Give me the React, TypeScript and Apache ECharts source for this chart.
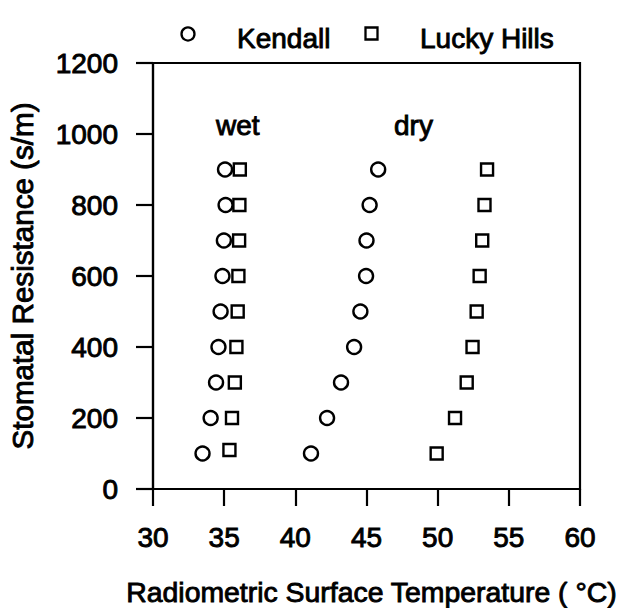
import React, { useEffect, useRef } from "react";
import * as echarts from "echarts";

// Stomatal resistance levels (s/m)
const resistance = [100, 200, 300, 400, 500, 600, 700, 800, 900];
const luckyWetResistance = [110, 200, 300, 400, 500, 600, 700, 800, 900];

// Radiometric surface temperature (°C)
const kendallWet = [33.48, 34.05, 34.43, 34.6, 34.75, 34.88, 34.98, 35.1, 35.06];
const luckyWet = [35.37, 35.55, 35.75, 35.86, 35.95, 36.0, 36.05, 36.07, 36.1];
const kendallDry = [41.1, 42.23, 43.21, 44.13, 44.57, 44.97, 45.0, 45.22, 45.82];
const luckyDry = [49.93, 51.22, 52.04, 52.45, 52.74, 52.95, 53.13, 53.29, 53.47];

const legendNames = ["Kendall", "Lucky Hills"];
const annotations = ["wet", "dry"];
const xName = "Radiometric Surface Temperature ( \u00B0C)";
const yName = "Stomatal Resistance (s/m)";

const FONT = "'Liberation Sans', Arial, Helvetica, sans-serif";
const FS = 28;
const SW = 0.9;

const zip = (xs: number[], ys: number[]) => xs.map((x, i) => [x, ys[i]]);

export default function App() {
  const ref = useRef<HTMLDivElement>(null);

  useEffect(() => {
    if (!ref.current) return;
    const chart = echarts.init(ref.current, undefined, { renderer: "svg" });

    const textBase = {
      fontFamily: FONT,
      fontSize: FS,
      color: "#000",
      textBorderColor: "#000",
      textBorderWidth: SW,
    };

    const circleSeries = (data: number[][]) => ({
      type: "scatter",
      name: legendNames[0],
      symbol: "circle",
      symbolSize: 14,
      itemStyle: { color: "#fff", borderColor: "#000", borderWidth: 2.4, opacity: 1 },
      data,
      z: 3,
    });
    const squareSeries = (data: number[][]) => ({
      type: "scatter",
      name: legendNames[1],
      symbol: "rect",
      symbolSize: 12,
      itemStyle: { color: "#fff", borderColor: "#000", borderWidth: 2.4, opacity: 1 },
      data,
      z: 3,
    });

    const gText = (text: string, x: number, y: number) => ({
      type: "text",
      x,
      y,
      style: {
        text,
        font: `${FS}px ${FONT}`,
        fill: "#000",
        stroke: "#000",
        lineWidth: SW,
        align: "left",
        verticalAlign: "middle",
      },
    });

    chart.setOption({
      animation: false,
      backgroundColor: "#fff",
      grid: {
        left: 153,
        top: 63,
        width: 427,
        height: 426,
        containLabel: false,
        outerBoundsMode: "none",
        show: true,
        borderColor: "#000",
        borderWidth: 2.2,
        backgroundColor: "transparent",
      },
      xAxis: {
        type: "value",
        min: 30,
        max: 60,
        interval: 5,
        name: xName,
        nameLocation: "middle",
        nameGap: 89,
        nameTextStyle: { ...textBase, fontSize: 28.4, padding: [0, 0, 0, 10] },
        axisLine: { show: true, onZero: false, lineStyle: { color: "#000", width: 2.2 } },
        axisTick: { show: true, inside: false, length: 17, lineStyle: { color: "#000", width: 2.2 } },
        axisLabel: { ...textBase, margin: 34, formatter: (v: number) => String(v) },
        splitLine: { show: false },
      },
      yAxis: {
        type: "value",
        min: 0,
        max: 1200,
        interval: 200,
        name: yName,
        nameLocation: "middle",
        nameGap: 116,
        nameTextStyle: { ...textBase, fontSize: 29.6 },
        axisLine: { show: true, onZero: false, lineStyle: { color: "#000", width: 2.2 } },
        axisTick: { show: true, inside: false, length: 17, lineStyle: { color: "#000", width: 2.2 } },
        axisLabel: { ...textBase, margin: 35, formatter: (v: number) => String(v) },
        splitLine: { show: false },
      },
      series: [
        circleSeries(zip(kendallWet, resistance)),
        squareSeries(zip(luckyWet, luckyWetResistance)),
        circleSeries(zip(kendallDry, resistance)),
        squareSeries(zip(luckyDry, resistance)),
      ],
      graphic: [
        {
          type: "circle",
          shape: { cx: 188, cy: 34, r: 6.5 },
          style: { fill: "#fff", stroke: "#000", lineWidth: 2.3 },
        },
        gText(legendNames[0], 237, 38),
        {
          type: "rect",
          shape: { x: 365.5, y: 27.5, width: 12, height: 12 },
          style: { fill: "#fff", stroke: "#000", lineWidth: 2.3 },
        },
        gText(legendNames[1], 420, 38),
        gText(annotations[0], 216, 125),
        gText(annotations[1], 394, 125),
      ],
    });

    return () => chart.dispose();
  }, []);

  return (
    <div
      ref={ref}
      style={{ position: "absolute", left: 0, top: 0, width: 618, height: 608 }}
    />
  );
}
